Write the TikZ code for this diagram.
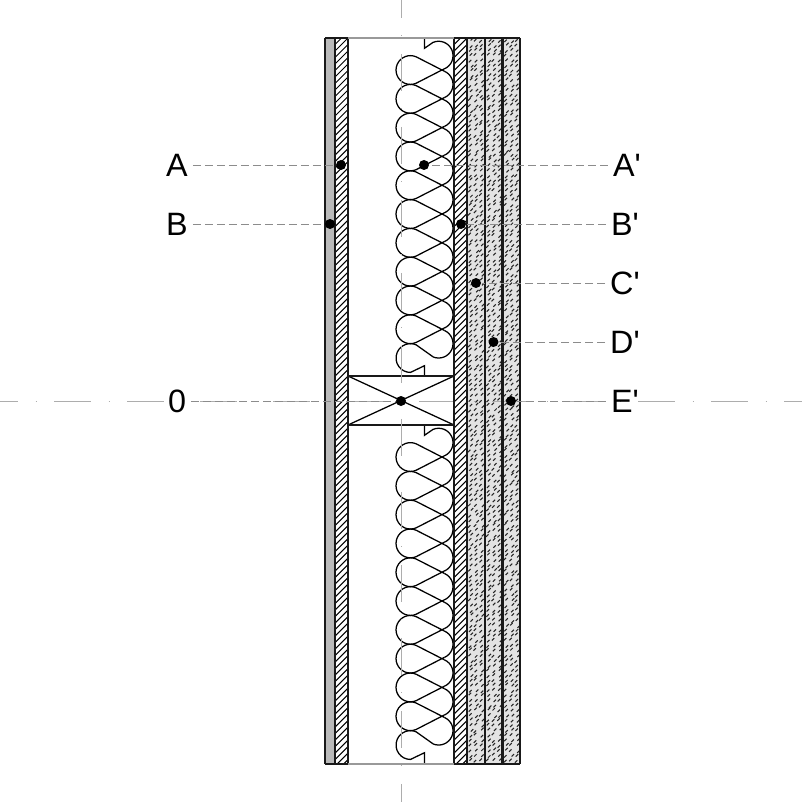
\documentclass[tikz,border=0pt]{standalone}
\usepackage{fontspec}
\setmainfont{Liberation Sans}
\usetikzlibrary{positioning}

\begin{document}
\begin{tikzpicture}[
    x=0.1mm, y=-0.1mm,
    wall/.style={line width=0.58pt, black!90},
    hatchline/.style={line width=0.3pt, black},
    batt/.style={line width=0.36pt, black},
    axisline/.style={line width=0.25pt, black!32, dash pattern=on 3.7mm off 1.75mm on 0.1mm off 1.75mm, dash phase=1.9mm},
    leader/.style={line width=0.28pt, black!45, dash pattern=on 0.8mm off 0.4mm},
    pt/.style={circle, fill=black, inner sep=0pt, minimum size=1mm},
    lbl/.style={inner sep=0.45mm, font=\fontsize{9.2}{11}\selectfont}
]
\useasboundingbox (0,0) rectangle (802,802);

% --- 1. FINISH LAYERS ---
% Fine board on the outer face
\fill[black!27] (325,38) rectangle (335,764);

% Hatched boards
\foreach \xa/\xb in {335/348, 454/467}{
    \begin{scope}
        \clip (\xa,38) rectangle (\xb,764);
        \foreach \ya in {38,44.5,...,790}
            \draw[hatchline] (\xa,\ya) -- (\xb,\ya-13);
    \end{scope}
}

% Speckled boards
\pgfmathsetseed{7}
\foreach \xa/\xb in {467/485, 485/502.5, 502.5/520}{
    \begin{scope}
        \clip (\xa,38) rectangle (\xb,764);
        \fill[black!11] (\xa,38) rectangle (\xb,764);
        \foreach \ya in {40,45,...,764}
            \foreach \ofs in {1,6.5,12}{
                \pgfmathsetmacro\xp{\xa+\ofs+3*rnd}
                \pgfmathsetmacro\yp{\ya+3*rnd}
                \draw[line width=0.3pt, black!85] (\xp,\yp) -- (\xp+2.4,\yp-2.4);
            }
    \end{scope}
}

% --- 2. INSULATION ---
% Same batt above and below the stud
\foreach \dy in {0,387}{
    \begin{scope}[shift={(0,\dy)}]
        \foreach \k in {0,...,10}{
            \pgfmathsetmacro\cyl{70+28.8*\k}
            \pgfmathsetmacro\cyr{55.6+28.8*\k}
            % right bulge
            \ifnum\k=0
                \draw[batt] (424.5,38) -- (424.5,48.3) -- (433,42.4)
                    arc[start angle=-113, end angle=66.8, radius=14.4];
            \else\ifnum\k=10
                \draw[batt] (444.3,\cyr-13.2)
                    arc[start angle=-66.8, end angle=113, radius=14.4];
            \else
                \draw[batt] (444.3,\cyr-13.2)
                    arc[start angle=-66.8, end angle=66.8, radius=14.4];
            \fi\fi
            % left bulge and its two legs
            \ifnum\k=10
                \draw[batt] (433,356.8) -- (416.1,\cyl-13.2)
                    arc[start angle=-66.8, end angle=-270, radius=14.4]
                    -- (424.5,365.7) -- (424.5,376);
            \else
                \draw[batt] (444.3,\cyl+1.2) -- (416.1,\cyl-13.2)
                    arc[start angle=-66.8, end angle=-293.2, radius=14.4]
                    -- (444.3,\cyl-1.2);
            \fi
        }
    \end{scope}
}

% --- 3. STUD ---
\draw[batt] (348,376) -- (454,425);
\draw[batt] (348,425) -- (454,376);
\draw[line width=0.65pt, black!90] (348,376) rectangle (454,425);

% --- 4. AXES ---
\draw[axisline] (0,401) -- (802,401);
\draw[axisline] (401,0) -- (401,802);

% --- 5. WALL OUTLINE ---
\foreach \xa in {325,335,348,454,467,485,502.5,520}
    \draw[wall] (\xa,38) -- (\xa,764);
\foreach \ya in {38,764}{
    \draw[wall] (325,\ya) -- (348,\ya);
    \draw[wall] (454,\ya) -- (520,\ya);
    \draw[line width=0.4pt, black!40] (348,\ya) -- (454,\ya);
}

% --- 6. MEASURING POINTS ---
\node[pt] (ptA) at (341,165) {};
\node[pt] (ptB) at (330,224) {};
\node[pt] (ptO) at (401,401) {};
\node[pt] (ptAr) at (424,165) {};
\node[pt] (ptBr) at (461,224) {};
\node[pt] (ptCr) at (476,283) {};
\node[pt] (ptDr) at (493.5,342) {};
\node[pt] (ptEr) at (511,401) {};

\node[lbl] (lblA) at (177,165) {A};
\node[lbl] (lblB) at (177,224) {B};
\node[lbl] (lblO) at (177,401) {0};
\node[lbl] (lblAr) at (627,165) {A\textquotesingle};
\node[lbl] (lblBr) at (625,224) {B\textquotesingle};
\node[lbl] (lblCr) at (625,283) {C\textquotesingle};
\node[lbl] (lblDr) at (625,342) {D\textquotesingle};
\node[lbl] (lblEr) at (625,401) {E\textquotesingle};

\draw[leader] (lblA.east) -- (ptA);
\draw[leader] (lblB.east) -- (ptB);
\draw[leader] (lblO.east) -- (ptO);
\draw[leader] (lblAr.west) -- (ptAr);
\draw[leader] (lblBr.west) -- (ptBr);
\draw[leader] (lblCr.west) -- (ptCr);
\draw[leader] (lblDr.west) -- (ptDr);
\draw[leader] (lblEr.west) -- (ptEr);

\end{tikzpicture}
\end{document}
